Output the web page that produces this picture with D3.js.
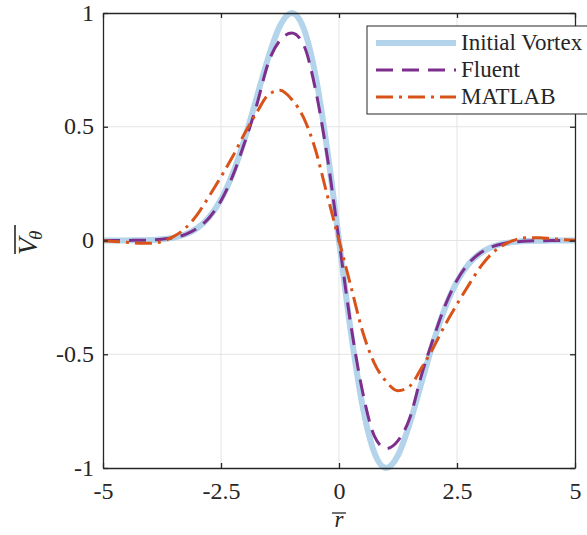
<!DOCTYPE html>
<html>
<head>
<meta charset="utf-8">
<script src="https://cdn.jsdelivr.net/npm/d3@7"></script>
<style>
  body { margin: 0; background: #fff; }
  svg { display: block; }
  svg text { font-family: 'Liberation Serif', 'Times New Roman', 'DejaVu Serif', serif !important; fill: #262626; }
</style>
</head>
<body>
<svg id="drawing_region"></svg>
<script>
// radius samples (r bar)
const rValues = [-5, -4.75, -4.5, -4.25, -4, -3.75, -3.5, -3.25, -3, -2.75, -2.5, -2.25, -2, -1.75, -1.5, -1.25, -1, -0.75, -0.5, -0.25,
  0, 0.25, 0.5, 0.75, 1, 1.25, 1.5, 1.75, 2, 2.25, 2.5, 2.75, 3, 3.25, 3.5, 3.75, 4, 4.25, 4.5, 4.75, 5];

// V theta bar
const initialVortex = [0, 0, 0.0003, 0.0009, 0.0022, 0.0055, 0.0126, 0.0273, 0.055, 0.103, 0.181, 0.295, 0.446, 0.624, 0.803, 0.944, 1, 0.933, 0.728, 0.400,
  0, -0.400, -0.728, -0.933, -1, -0.944, -0.803, -0.624, -0.446, -0.295, -0.181, -0.103, -0.055, -0.0273, -0.0126, -0.0055, -0.0022, -0.0009, -0.0003, 0, 0];

const fluent = [0, 0, 0.0003, 0.001, 0.002, 0.006, 0.013, 0.027, 0.054, 0.10, 0.175, 0.285, 0.43, 0.59, 0.78, 0.88, 0.912, 0.86, 0.665, 0.37,
  0, -0.37, -0.665, -0.86, -0.915, -0.88, -0.78, -0.59, -0.43, -0.285, -0.175, -0.10, -0.054, -0.027, -0.013, -0.006, -0.002, -0.001, -0.0003, 0, 0];

const matlab = [-0.001, -0.004, -0.008, -0.012, -0.012, -0.004, 0.018, 0.055, 0.115, 0.195, 0.28, 0.37, 0.47, 0.56, 0.64, 0.66, 0.62, 0.54, 0.40, 0.20,
  0, -0.20, -0.40, -0.54, -0.62, -0.66, -0.64, -0.56, -0.47, -0.37, -0.28, -0.195, -0.115, -0.055, -0.018, 0.004, 0.012, 0.012, 0.008, 0.004, 0.001];

const seriesNames = ["Initial Vortex", "Fluent", "MATLAB"];
const xTicks = [-5, -2.5, 0, 2.5, 5];
const yTicks = [-1, -0.5, 0, 0.5, 1];

class LinePlot {
  constructor(config) {
    this.config = {
      parent: config.parent,
      width: config.width || 587,
      height: config.height || 535,
      margin: config.margin || {top: 13, right: 12, bottom: 67, left: 103}
    };
    this.init();
  }

  init() {
    let self = this;
    self.svg = d3.select(self.config.parent)
      .attr('width', self.config.width)
      .attr('height', self.config.height);

    self.inner_width = self.config.width - self.config.margin.left - self.config.margin.right;
    self.inner_height = self.config.height - self.config.margin.top - self.config.margin.bottom;

    self.chart = self.svg.append('g')
      .attr('transform', `translate(${self.config.margin.left}, ${self.config.margin.top})`);

    self.xscale = d3.scaleLinear().domain([-5, 5]).range([0, self.inner_width]);
    self.yscale = d3.scaleLinear().domain([-1, 1]).range([self.inner_height, 0]);

    self.styles = [
      {data: initialVortex, color: '#b3d4ea', width: 6, dash: null},
      {data: fluent, color: '#7e2f8e', width: 3, dash: '17,9'},
      {data: matlab, color: '#d95319', width: 3, dash: '17,6,3,6'}
    ];
  }

  render() {
    let self = this;
    const W = self.inner_width, H = self.inner_height;
    const fmt = d => d3.format('')(d).replace('−', '-');

    // grid
    self.chart.selectAll('line.gx').data(xTicks.slice(1, -1)).enter().append('line')
      .attr('x1', d => self.xscale(d)).attr('x2', d => self.xscale(d))
      .attr('y1', 0).attr('y2', H)
      .attr('stroke', '#e3e3e3').attr('stroke-width', 1);
    self.chart.selectAll('line.gy').data(yTicks.slice(1, -1)).enter().append('line')
      .attr('y1', d => self.yscale(d)).attr('y2', d => self.yscale(d))
      .attr('x1', 0).attr('x2', W)
      .attr('stroke', '#e3e3e3').attr('stroke-width', 1);

    // curves
    const line = d3.line()
      .x((d, i) => self.xscale(rValues[i]))
      .y(d => self.yscale(d))
      .curve(d3.curveMonotoneX);

    self.chart.selectAll('path.series').data(self.styles).enter().append('path')
      .attr('d', d => line(d.data))
      .attr('fill', 'none')
      .attr('stroke', d => d.color)
      .attr('stroke-width', d => d.width)
      .attr('stroke-dasharray', d => d.dash)
      .attr('stroke-linejoin', 'round');

    // axes (ticks inside, box)
    const xb = self.chart.append('g').attr('transform', `translate(0,${H})`)
      .call(d3.axisBottom(self.xscale).tickValues(xTicks).tickSizeInner(-5).tickSizeOuter(0).tickFormat(fmt));
    const xt = self.chart.append('g')
      .call(d3.axisTop(self.xscale).tickValues(xTicks).tickSizeInner(-5).tickSizeOuter(0).tickFormat(''));
    const yl = self.chart.append('g')
      .call(d3.axisLeft(self.yscale).tickValues(yTicks).tickSizeInner(-5).tickSizeOuter(0).tickFormat(fmt));
    const yr = self.chart.append('g').attr('transform', `translate(${W},0)`)
      .call(d3.axisRight(self.yscale).tickValues(yTicks).tickSizeInner(-5).tickSizeOuter(0).tickFormat(''));

    [xb, xt, yl, yr].forEach(g => {
      g.attr('font-family', null);
      g.select('.domain').attr('stroke', '#262626').attr('stroke-width', 1.3);
      g.selectAll('.tick line').attr('stroke', '#262626').attr('stroke-width', 1.3);
    });
    xb.selectAll('.tick text')
      .attr('y', 31).attr('dy', null)
      .style('font-size', '24px');
    yl.selectAll('.tick text')
      .attr('x', -9).attr('dy', '0.3em')
      .style('font-size', '24px');

    // axis labels
    const xlab = self.svg.append('g').attr('transform', 'translate(339, 527)');
    xlab.append('text').attr('text-anchor', 'middle')
      .style('font-size', '23px').style('font-style', 'italic').text('r');
    xlab.append('line').attr('x1', -7).attr('x2', 7).attr('y1', -14).attr('y2', -14)
      .attr('stroke', '#262626').attr('stroke-width', 1.3);

    const ylab = self.svg.append('g').attr('transform', 'translate(37, 255) rotate(-90)');
    const yt = ylab.append('text').style('font-size', '28px').style('font-style', 'italic');
    yt.append('tspan').text('V');
    yt.append('tspan').attr('dy', 5).attr('dx', -2).style('font-size', '19px').text('θ');
    ylab.append('line').attr('x1', 1).attr('x2', 30).attr('y1', -22).attr('y2', -22)
      .attr('stroke', '#262626').attr('stroke-width', 1.6);

    // legend
    const lg = self.svg.append('g').attr('transform', 'translate(367, 26)');
    lg.append('rect').attr('x', 0).attr('y', 0).attr('width', 250).attr('height', 88)
      .attr('fill', '#fff').attr('stroke', '#262626').attr('stroke-width', 1);
    const items = lg.selectAll('g.item').data(self.styles).enter().append('g')
      .attr('transform', (d, i) => `translate(0, ${17 + i * 27})`);
    items.append('line').attr('x1', 9).attr('x2', 89)
      .attr('stroke', d => d.color).attr('stroke-width', d => d.width)
      .attr('stroke-dasharray', d => d.dash);
    items.append('text').attr('x', 94).attr('y', 7)
      .style('font-size', '23px').text((d, i) => seriesNames[i]);
  }
}

const plot = new LinePlot({parent: '#drawing_region', width: 587, height: 535,
  margin: {top: 13, right: 12, bottom: 67, left: 103}});
plot.render();
</script>
</body>
</html>
